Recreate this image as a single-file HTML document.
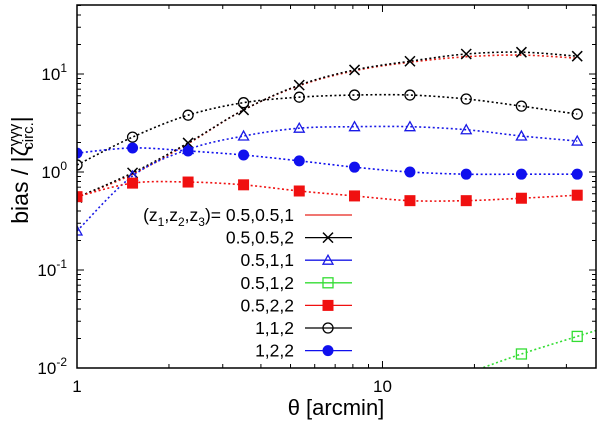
<!DOCTYPE html>
<html><head><meta charset="utf-8"><style>
html,body{margin:0;padding:0;background:#fff;}
svg{display:block;font-family:"Liberation Sans",sans-serif;}
</style></head><body>
<svg id="chart" width="600" height="426" viewBox="0 0 600 426">
<defs><clipPath id="pc"><rect x="77" y="5" width="519" height="363"/></clipPath></defs>
<g id="grid"></g>
<g id="series" clip-path="url(#pc)"></g>
<rect x="77" y="5" width="519" height="363" fill="none" stroke="#000" stroke-width="1.5"/>
<g id="legend"></g>
<text x="336" y="415" font-size="22" text-anchor="middle">θ [arcmin]</text>
<text transform="translate(28,170) rotate(-90)" font-size="23" text-anchor="middle">bias / |ζ<tspan font-size="15" dy="-9">γγγ</tspan><tspan font-size="15" dx="-26" dy="14">circ.</tspan><tspan dy="-5">|</tspan></text>
</svg>
<script>
const theta = [1, 1.52, 2.31, 3.51, 5.34, 8.1, 12.3, 18.8, 28.5, 43.4];
const s_05_05_1 = [0.55, 0.95, 1.95, 4.3, 7.6, 10.8, 13.2, 15.0, 15.6, 14.5];
const s_05_05_2 = [0.55, 0.98, 1.98, 4.3, 7.7, 11.0, 13.5, 16.0, 16.7, 15.2];
const s_05_1_1 = [0.25, 0.91, 1.7, 2.33, 2.8, 2.9, 2.9, 2.7, 2.33, 2.07];
const s_05_1_2 = [null, null, null, null, null, null, null, 0.0088, 0.0139, 0.021];
const s_05_2_2 = [0.56, 0.77, 0.79, 0.74, 0.64, 0.57, 0.51, 0.51, 0.54, 0.58];
const s_1_1_2 = [1.18, 2.27, 3.8, 5.1, 5.8, 6.1, 6.1, 5.56, 4.7, 3.9];
const s_1_2_2 = [1.56, 1.76, 1.64, 1.49, 1.3, 1.12, 1.0, 0.95, 0.95, 0.95];
const xTicks = [1, 10];
const xTickLabels = ["1", "10"];
const yTicks = [0.01, 0.1, 1, 10];
const yTickLabels = [["10","-2"],["10","-1"],["10","0"],["10","1"]];
const labels = ["0.5,0.5,1","0.5,0.5,2","0.5,1,1","0.5,1,2","0.5,2,2","1,1,2","1,2,2"];

const X0=77,X1=596,Y0=368,Y1=5,XMIN=1,XMAX=50,YMIN=0.01,YMAX=50.6;
function xs(v){return X0+(Math.log10(v)-Math.log10(XMIN))/(Math.log10(XMAX)-Math.log10(XMIN))*(X1-X0);}
function ys(v){return Y0-(Math.log10(v)-Math.log10(YMIN))/(Math.log10(YMAX)-Math.log10(YMIN))*(Y0-Y1);}
const NS="http://www.w3.org/2000/svg";
function mk(t,a,p){const e=document.createElementNS(NS,t);for(const k in a)e.setAttribute(k,a[k]);p.appendChild(e);return e;}
const grid=document.getElementById('grid'),ser=document.getElementById('series'),leg=document.getElementById('legend');

for(let d=1;d<=50;d*=10){for(let m=1;m<10;m++){const v=d*m;if(v>XMAX)break;const x=xs(v);const L=m===1?7:4;
 let t=mk('line',{x1:x,y1:Y0,x2:x,y2:Y0-L,stroke:'#000','stroke-width':1},grid);
 
 t=mk('line',{x1:x,y1:Y1,x2:x,y2:Y1+L,stroke:'#000','stroke-width':1},grid);
 }}
xTicks.forEach((v,i)=>{const t=mk('text',{x:xs(v),y:Y0+24,'font-size':17,'text-anchor':'middle'},grid);t.textContent=xTickLabels[i];
 });
for(let d=0.01;d<60;d*=10){for(let m=1;m<10;m++){const v=d*m;if(v>YMAX)break;const y=ys(v);const L=m===1?7:4;
 let t=mk('line',{x1:X0,y1:y,x2:X0+L,y2:y,stroke:'#000','stroke-width':1},grid);
 
 t=mk('line',{x1:X1,y1:y,x2:X1-L,y2:y,stroke:'#000','stroke-width':1},grid);
 }}
yTicks.forEach((v,i)=>{const t=mk('text',{x:67,y:ys(v)+6,'font-size':17,'text-anchor':'end'},grid);
 t.innerHTML=yTickLabels[i][0]+'<tspan font-size="12" dy="-8">'+yTickLabels[i][1]+'</tspan>';
 });

function smooth(pts){if(pts.length<2)return '';let d='M'+pts[0][0]+','+pts[0][1];
 for(let i=0;i<pts.length-1;i++){const p0=pts[i-1]||pts[i],p1=pts[i],p2=pts[i+1],p3=pts[i+2]||p2;
  d+=' C'+(p1[0]+(p2[0]-p0[0])/6)+','+(p1[1]+(p2[1]-p0[1])/6)+' '+(p2[0]-(p3[0]-p1[0])/6)+','+(p2[1]-(p3[1]-p1[1])/6)+' '+p2[0]+','+p2[1];}
 return d;}
function marker(type,x,y,c,p){let e;
 if(type==='x'){e=mk('path',{d:`M${x-5},${y-5}L${x+5},${y+5}M${x-5},${y+5}L${x+5},${y-5}`,stroke:c,'stroke-width':1.5,fill:'none'},p);}
 else if(type==='tri'){e=mk('path',{d:`M${x},${y-5}L${x+5},${y+4}L${x-5},${y+4}Z`,stroke:c,'stroke-width':1.3,fill:'none'},p);}
 else if(type==='osq'){e=mk('rect',{x:x-5,y:y-5,width:10,height:10,stroke:c,'stroke-width':1.3,fill:'none'},p);}
 else if(type==='fsq'){e=mk('rect',{x:x-5.5,y:y-5.5,width:11,height:11,fill:c},p);}
 else if(type==='oc'){e=mk('circle',{cx:x,cy:y,r:5,stroke:c,'stroke-width':1.3,fill:'none'},p);}
 else if(type==='fc'){e=mk('circle',{cx:x,cy:y,r:5.5,fill:c},p);}
 return e;}
const series=[
 {n:'0.5-0.5-1',v:s_05_05_1,c:'#e8241c',m:null},
 {n:'0.5-0.5-2',v:s_05_05_2,c:'#000',m:'x'},
 {n:'0.5-1-1',v:s_05_1_1,c:'#1a1ae6',m:'tri'},
 {n:'0.5-1-2',v:s_05_1_2,c:'#33dd33',m:'osq'},
 {n:'0.5-2-2',v:s_05_2_2,c:'#f01010',m:'fsq'},
 {n:'1-1-2',v:s_1_1_2,c:'#000',m:'oc'},
 {n:'1-2-2',v:s_1_2_2,c:'#1010ee',m:'fc'}];
series.forEach((s,si)=>{const pts=[];s.v.forEach((v,i)=>{if(v!=null)pts.push([xs(theta[i]),ys(v)]);});
 if(s.m==='osq'&&pts.length>1){const a=pts[pts.length-2],b=pts[pts.length-1];const k=(b[1]-a[1])/(b[0]-a[0]);pts.push([X1+2,b[1]+k*(X1+2-b[0])]);
  const c=pts[0];pts.unshift([c[0]-60,c[1]-k*60]);}
 const path=mk('path',{d:smooth(pts),fill:'none',stroke:s.c,'stroke-width':1.6,'stroke-dasharray':'2,2.5'},ser);
 
 if(s.m){s.v.forEach((v,i)=>{if(v==null)return;const e=marker(s.m,xs(theta[i]),ys(v),s.c,ser);
  });}
 const ly=215+si*22.6;
 const t=mk('text',{x:294,y:ly+6,'font-size':17.5,'text-anchor':'end'},leg);
 t.innerHTML=(si===0?'(z<tspan font-size="12" dy="5">1</tspan><tspan dy="-5">,z</tspan><tspan font-size="12" dy="5">2</tspan><tspan dy="-5">,z</tspan><tspan font-size="12" dy="5">3</tspan><tspan dy="-5">)= </tspan>':'')+labels[si];
 
 const l=mk('line',{x1:305,y1:ly,x2:352,y2:ly,stroke:s.c,'stroke-width':1.3},leg);
 
 if(s.m){const e=marker(s.m,328,ly,s.c,leg);}
});
</script>
</body></html>
